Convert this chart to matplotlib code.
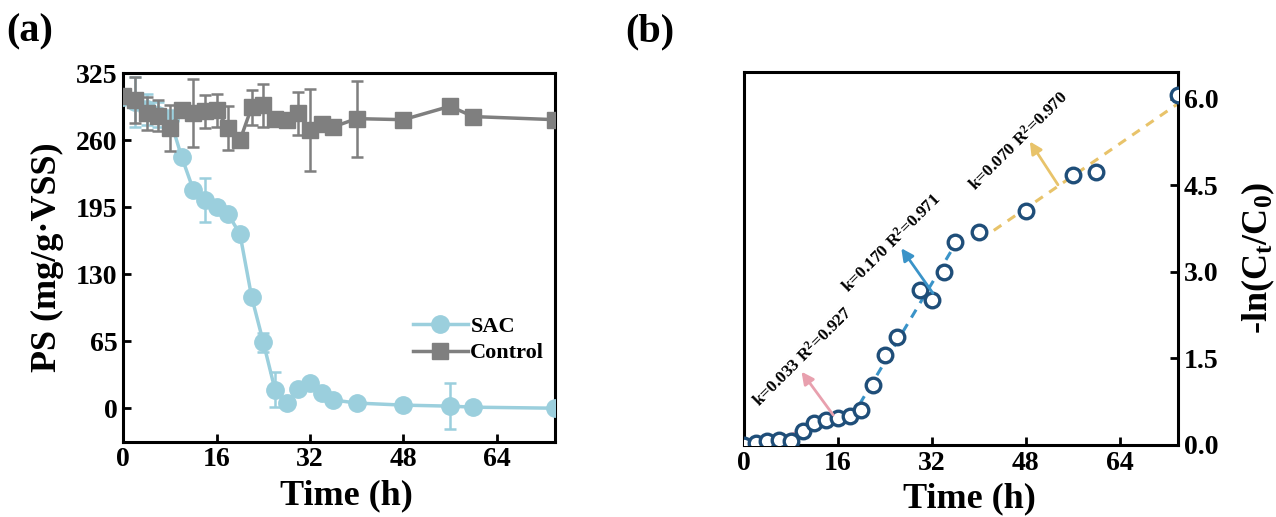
import matplotlib
matplotlib.use("Agg")
import matplotlib.pyplot as plt
import numpy as np

# ---------------- data ----------------
time_h = [0, 2, 4, 6, 8, 10, 12, 14, 16, 18, 20, 22, 24, 26, 28, 30, 32, 34, 36, 40, 48, 56, 60, 74]
sac_ps = [302, 297, 290, 285, 281, 244, 212, 202, 195, 188, 169, 108, 64, 18, 5, 19, 24, 15, 8, 5, 3, 2, 1, 0]
sac_err = [3, 24, 15, 12, 8, 5, 4, 21, 6, 4, 3, 4, 9, 17, 3, 3, 3, 3, 3, 3, 3, 22, 3, 2]
ctrl_ps = [303, 299, 286, 284, 272, 289, 286, 288, 289, 272, 260, 292, 294, 281, 280, 286, 270, 276, 273, 281, 280, 293, 283, 280]
ctrl_err = [3, 22, 16, 15, 22, 4, 33, 16, 16, 21, 4, 17, 21, 4, 4, 21, 40, 3, 3, 37, 3, 3, 3, 3]

kin_time = [0, 2, 4, 6, 8, 10, 12, 14, 16, 18, 20, 22, 24, 26, 30, 32, 34, 36, 40, 48, 56, 60, 74]
kin_val = [0.0, 0.04, 0.07, 0.09, 0.07, 0.24, 0.38, 0.43, 0.46, 0.50, 0.60, 1.04, 1.56, 1.88, 2.69, 2.51, 3.00, 3.52, 3.70, 4.05, 4.68, 4.74, 6.07]

# linear fits: start, end, slope k, intercept, R2
fit_start = [2, 19.7, 40.2]
fit_end = [20, 36.8, 74]
fit_k = [0.033, 0.170, 0.070]
fit_b = [-0.08, -2.64, 0.74]
fit_r2 = ["0.927", "0.971", "0.970"]
fit_colors = ["#E8A0AE", "#3A93C8", "#E8C36A"]
# arrows (tail -> head) and label positions in data coords
arrow_tail = [(15.2, 0.52), (32.2, 2.63), (53.5, 4.51)]
arrow_head = [(9.8, 1.27), (26.8, 3.41), (48.7, 5.26)]
label_pos = [(10.0, 1.52), (25.1, 3.50), (46.8, 5.27)]

# ---------------- style ----------------
plt.rcParams['font.family'] = ['Liberation Serif', 'DejaVu Serif']
plt.rcParams['font.weight'] = 'bold'
plt.rcParams['mathtext.fontset'] = 'custom'
plt.rcParams['mathtext.rm'] = 'Liberation Serif:bold'
plt.rcParams['mathtext.it'] = 'Liberation Serif:bold:italic'
plt.rcParams['mathtext.bf'] = 'Liberation Serif:bold'

fig = plt.figure(figsize=(12.76, 5.17), dpi=100)
W, H = 1276, 517
def axrect(x0, x1, y0, y1):
    return [x0 / W, 1 - y1 / H, (x1 - x0) / W, (y1 - y0) / H]

ax1 = fig.add_axes(axrect(123.3, 555, 73.3, 441.7))
ax2 = fig.add_axes(axrect(744, 1178.3, 71.7, 445))

sac_color = "#9BCFDD"
ctrl_color = "#7F7F7F"

# ---- panel a ----
ax1.errorbar(time_h, sac_ps, yerr=sac_err, fmt='none', ecolor=sac_color,
             elinewidth=1.8, capsize=4, capthick=1.8, zorder=2)
l1, = ax1.plot(time_h, sac_ps, '-o', color=sac_color, lw=2.5, ms=12.5,
               markeredgecolor=sac_color, zorder=3, label='SAC')
ax1.errorbar(time_h, ctrl_ps, yerr=ctrl_err, fmt='none', ecolor=ctrl_color,
             elinewidth=1.8, capsize=4, capthick=1.8, zorder=4)
l2, = ax1.plot(time_h, ctrl_ps, '-s', color=ctrl_color, lw=2.5, ms=11,
               markeredgecolor=ctrl_color, zorder=5, label='Control')

ax1.set_xlim(0, 74)
ax1.set_ylim(-32.5, 325)
ax1.set_xticks([0, 16, 32, 48, 64])
ax1.set_yticks([0, 65, 130, 195, 260, 325])
ax1.set_xlabel('Time (h)', fontsize=26, fontweight='bold', labelpad=5)
ax1.xaxis.label.set_x(0.518)
ax1.set_ylabel('PS (mg/g·VSS)', fontsize=26, fontweight='bold', labelpad=9)
leg = ax1.legend(handles=[l1, l2], loc='center left', bbox_to_anchor=(0.67, 0.276),
                 frameon=False, fontsize=16, handlelength=2.5, handletextpad=0.1,
                 labelspacing=0.25, borderpad=0, borderaxespad=0)
for t in leg.get_texts():
    t.set_fontweight('bold')

# ---- panel b ----
for i in range(3):
    xs = np.array([fit_start[i], fit_end[i]])
    ax2.plot(xs, fit_k[i] * xs + fit_b[i], '--', color=fit_colors[i], lw=2.2,
             dashes=(3, 2.5), zorder=2)
ax2.plot(kin_time, kin_val, 'o', ms=10.5, mfc='white', mec='#1F4E79', mew=2.4,
         zorder=3)
for i in range(3):
    ax2.annotate('', xy=arrow_head[i], xytext=arrow_tail[i],
                 arrowprops=dict(arrowstyle='-|>', color=fit_colors[i], lw=2,
                                 mutation_scale=18, shrinkA=0, shrinkB=0), zorder=4)
    ax2.text(label_pos[i][0], label_pos[i][1],
             'k=%.3f R$^{2}$=%s' % (fit_k[i], fit_r2[i]),
             rotation=45, rotation_mode='anchor', ha='center', va='center',
             fontsize=12.5, fontweight='bold', zorder=5)

ax2.set_xlim(0, 74)
ax2.set_ylim(0, 6.47)
ax2.set_xticks([0, 16, 32, 48, 64])
ax2.set_yticks([0.0, 1.5, 3.0, 4.5, 6.0])
ax2.set_yticklabels(['0.0', '1.5', '3.0', '4.5', '6.0'])
ax2.yaxis.tick_right()
ax2.yaxis.set_label_position('right')
ax2.set_xlabel('Time (h)', fontsize=26, fontweight='bold', labelpad=5)
ax2.xaxis.label.set_x(0.52)
ax2.set_ylabel('-ln(C$_{\\rm t}$/C$_{\\rm 0}$)', fontsize=26, fontweight='bold',
               rotation=90, labelpad=15)

for ax in (ax1, ax2):
    for s in ax.spines.values():
        s.set_linewidth(2.2)
    ax.tick_params(direction='in', length=6, width=2, labelsize=20, pad=4)
    for lab in ax.get_xticklabels() + ax.get_yticklabels():
        lab.set_fontweight('bold')
ax2.tick_params(axis='y', right=True, left=False, labelright=True, labelleft=False)

fig.text(6 / W, 1 - 32 / H, '(a)', fontsize=29, fontweight='bold', va='center', ha='left')
fig.text(625 / W, 1 - 32 / H, '(b)', fontsize=29, fontweight='bold', va='center', ha='left')

fig.savefig('out.png', dpi=100)
